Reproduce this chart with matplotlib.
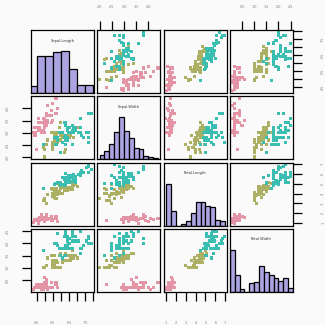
import numpy as np
import matplotlib.pyplot as plt

names = ['Sepal.Length', 'Sepal.Width', 'Petal.Length', 'Petal.Width']
species = ['setosa'] * 50 + ['versicolor'] * 50 + ['virginica'] * 50

sepal_length = [
    5.1, 4.9, 4.7, 4.6, 5.0, 5.4, 4.6, 5.0, 4.4, 4.9, 5.4, 4.8, 4.8, 4.3, 5.8, 5.7, 5.4, 5.1, 5.7, 5.1,
    5.4, 5.1, 4.6, 5.1, 4.8, 5.0, 5.0, 5.2, 5.2, 4.7, 4.8, 5.4, 5.2, 5.5, 4.9, 5.0, 5.5, 4.9, 4.4, 5.1,
    5.0, 4.5, 4.4, 5.0, 5.1, 4.8, 5.1, 4.6, 5.3, 5.0,
    7.0, 6.4, 6.9, 5.5, 6.5, 5.7, 6.3, 4.9, 6.6, 5.2, 5.0, 5.9, 6.0, 6.1, 5.6, 6.7, 5.6, 5.8, 6.2, 5.6,
    5.9, 6.1, 6.3, 6.1, 6.4, 6.6, 6.8, 6.7, 6.0, 5.7, 5.5, 5.5, 5.8, 6.0, 5.4, 6.0, 6.7, 6.3, 5.6, 5.5,
    5.5, 6.1, 5.8, 5.0, 5.6, 5.7, 5.7, 6.2, 5.1, 5.7,
    6.3, 5.8, 7.1, 6.3, 6.5, 7.6, 4.9, 7.3, 6.7, 7.2, 6.5, 6.4, 6.8, 5.7, 5.8, 6.4, 6.5, 7.7, 7.7, 6.0,
    6.9, 5.6, 7.7, 6.3, 6.7, 7.2, 6.2, 6.1, 6.4, 7.2, 7.4, 7.9, 6.4, 6.3, 6.1, 7.7, 6.3, 6.4, 6.0, 6.9,
    6.7, 6.9, 5.8, 6.8, 6.7, 6.7, 6.3, 6.5, 6.2, 5.9]
sepal_width = [
    3.5, 3.0, 3.2, 3.1, 3.6, 3.9, 3.4, 3.4, 2.9, 3.1, 3.7, 3.4, 3.0, 3.0, 4.0, 4.4, 3.9, 3.5, 3.8, 3.8,
    3.4, 3.7, 3.6, 3.3, 3.4, 3.0, 3.4, 3.5, 3.4, 3.2, 3.1, 3.4, 4.1, 4.2, 3.1, 3.2, 3.5, 3.6, 3.0, 3.4,
    3.5, 2.3, 3.2, 3.5, 3.8, 3.0, 3.8, 3.2, 3.7, 3.3,
    3.2, 3.2, 3.1, 2.3, 2.8, 2.8, 3.3, 2.4, 2.9, 2.7, 2.0, 3.0, 2.2, 2.9, 2.9, 3.1, 3.0, 2.7, 2.2, 2.5,
    3.2, 2.8, 2.5, 2.8, 2.9, 3.0, 2.8, 3.0, 2.9, 2.6, 2.4, 2.4, 2.7, 2.7, 3.0, 3.4, 3.1, 2.3, 3.0, 2.5,
    2.6, 3.0, 2.6, 2.3, 2.7, 3.0, 2.9, 2.9, 2.5, 2.8,
    3.3, 2.7, 3.0, 2.9, 3.0, 3.0, 2.5, 2.9, 2.5, 3.6, 3.2, 2.7, 3.0, 2.5, 2.8, 3.2, 3.0, 3.8, 2.6, 2.2,
    3.2, 2.8, 2.8, 2.7, 3.3, 3.2, 2.8, 3.0, 2.8, 3.0, 2.8, 3.8, 2.8, 2.8, 2.6, 3.0, 3.4, 3.1, 3.0, 3.1,
    3.1, 3.1, 2.7, 3.2, 3.3, 3.0, 2.5, 3.0, 3.4, 3.0]
petal_length = [
    1.4, 1.4, 1.3, 1.5, 1.4, 1.7, 1.4, 1.5, 1.4, 1.5, 1.5, 1.6, 1.4, 1.1, 1.2, 1.5, 1.3, 1.4, 1.7, 1.5,
    1.7, 1.5, 1.0, 1.7, 1.9, 1.6, 1.6, 1.5, 1.4, 1.6, 1.6, 1.5, 1.5, 1.4, 1.5, 1.2, 1.3, 1.4, 1.3, 1.5,
    1.3, 1.3, 1.3, 1.6, 1.9, 1.4, 1.6, 1.4, 1.5, 1.4,
    4.7, 4.5, 4.9, 4.0, 4.6, 4.5, 4.7, 3.3, 4.6, 3.9, 3.5, 4.2, 4.0, 4.7, 3.6, 4.4, 4.5, 4.1, 4.5, 3.9,
    4.8, 4.0, 4.9, 4.7, 4.3, 4.4, 4.8, 5.0, 4.5, 3.5, 3.8, 3.7, 3.9, 5.1, 4.5, 4.5, 4.7, 4.4, 4.1, 4.0,
    4.4, 4.6, 4.0, 3.3, 4.2, 4.2, 4.2, 4.3, 3.0, 4.1,
    6.0, 5.1, 5.9, 5.6, 5.8, 6.6, 4.5, 6.3, 5.8, 6.1, 5.1, 5.3, 5.5, 5.0, 5.1, 5.3, 5.5, 6.7, 6.9, 5.0,
    5.7, 4.9, 6.7, 4.9, 5.7, 6.0, 4.8, 4.9, 5.6, 5.8, 6.1, 6.4, 5.6, 5.1, 5.6, 6.1, 5.6, 5.5, 4.8, 5.4,
    5.6, 5.1, 5.1, 5.9, 5.7, 5.2, 5.0, 5.2, 5.4, 5.1]
petal_width = [
    0.2, 0.2, 0.2, 0.2, 0.2, 0.4, 0.3, 0.2, 0.2, 0.1, 0.2, 0.2, 0.1, 0.1, 0.2, 0.4, 0.4, 0.3, 0.3, 0.3,
    0.2, 0.4, 0.2, 0.5, 0.2, 0.2, 0.4, 0.2, 0.2, 0.2, 0.2, 0.4, 0.1, 0.2, 0.2, 0.2, 0.2, 0.1, 0.2, 0.2,
    0.3, 0.3, 0.2, 0.6, 0.4, 0.3, 0.2, 0.2, 0.2, 0.2,
    1.4, 1.5, 1.5, 1.3, 1.5, 1.3, 1.6, 1.0, 1.3, 1.4, 1.0, 1.5, 1.0, 1.4, 1.3, 1.4, 1.5, 1.0, 1.5, 1.1,
    1.8, 1.3, 1.5, 1.2, 1.3, 1.4, 1.4, 1.7, 1.5, 1.0, 1.1, 1.0, 1.2, 1.6, 1.5, 1.6, 1.5, 1.3, 1.3, 1.3,
    1.2, 1.4, 1.2, 1.0, 1.3, 1.2, 1.3, 1.3, 1.1, 1.3,
    2.5, 1.9, 2.1, 1.8, 2.2, 2.1, 1.7, 1.8, 1.8, 2.5, 2.0, 1.9, 2.1, 2.0, 2.4, 2.3, 1.8, 2.2, 2.3, 1.5,
    2.3, 2.0, 2.0, 1.8, 2.1, 1.8, 1.8, 1.8, 2.1, 1.6, 1.9, 2.0, 2.2, 1.5, 1.4, 2.3, 2.4, 1.8, 1.8, 2.1,
    2.4, 2.3, 1.9, 2.3, 2.5, 2.3, 1.9, 2.0, 2.3, 1.8]

# histogram bins (right-closed, like R's hist)
hist_breaks = [
    [4.0, 4.5, 5.0, 5.5, 6.0, 6.5, 7.0, 7.5, 8.0],
    [2.0, 2.2, 2.4, 2.6, 2.8, 3.0, 3.2, 3.4, 3.6, 3.8, 4.0, 4.2, 4.4],
    [1.0, 1.5, 2.0, 2.5, 3.0, 3.5, 4.0, 4.5, 5.0, 5.5, 6.0, 6.5, 7.0],
    [0.0, 0.2, 0.4, 0.6, 0.8, 1.0, 1.2, 1.4, 1.6, 1.8, 2.0, 2.2, 2.4, 2.6]]
hist_counts = [
    [5, 27, 27, 30, 31, 18, 6, 6],
    [4, 7, 13, 23, 36, 24, 18, 10, 9, 3, 2, 1],
    [37, 13, 0, 1, 4, 11, 21, 21, 17, 16, 5, 4],
    [34, 14, 2, 0, 7, 8, 21, 16, 14, 11, 9, 11, 3]]

# axis ticks and labels
tick_values = [
    [4.5, 5.0, 5.5, 6.0, 6.5, 7.0, 7.5, 8.0],
    [2.0, 2.5, 3.0, 3.5, 4.0],
    [1, 2, 3, 4, 5, 6, 7],
    [0.5, 1.0, 1.5, 2.0, 2.5]]
tick_labels = [
    ['4.5', '', '5.5', '', '6.5', '', '7.5', ''],
    ['2.0', '2.5', '3.0', '3.5', '4.0'],
    ['1', '2', '3', '4', '5', '6', '7'],
    ['0.5', '1.0', '1.5', '2.0', '2.5']]

species_colors = {'setosa': '#E495A5', 'versicolor': '#ABB065', 'virginica': '#39BEB1'}
hist_color = '#ACA4E2'
bg = '#fafafa'

data = [np.array(sepal_length), np.array(sepal_width),
        np.array(petal_length), np.array(petal_width)]
point_colors = [species_colors[s] for s in species]


def limits(v):
    lo, hi = v.min(), v.max()
    d = (hi - lo) * 0.04
    return lo - d, hi + d


W = 325
fig = plt.figure(figsize=(3.25, 3.25), dpi=100, facecolor=bg)
left0, top0, size, step = 31, 30, 63, 66.3
tick_kw = dict(length=6.5, width=0.9, color='black', labelsize=2.4, labelcolor='#777777')

for i in range(4):
    for j in range(4):
        x0 = left0 + j * step
        y0 = top0 + i * step
        ax = fig.add_axes([x0 / W, 1 - (y0 + size) / W, size / W, size / W])
        ax.set_facecolor(bg)
        for s in ax.spines.values():
            s.set_linewidth(0.9)
        ax.set_xlim(limits(data[j]))
        if i == j:
            b = np.array(hist_breaks[i])
            c = np.array(hist_counts[i], dtype=float)
            ax.bar(b[:-1], c / c.max(), width=np.diff(b), align='edge',
                   color=hist_color, edgecolor='black', linewidth=0.9)
            ax.set_ylim(0, 1.5)
            ax.text(0.5, 0.8333, names[i], transform=ax.transAxes, ha='center',
                    va='center', fontsize=2.6, color='#333333')
        else:
            ax.scatter(data[j], data[i], c=point_colors, s=5, marker='s',
                       linewidths=0)
            ax.set_ylim(limits(data[i]))

        ax.set_xticks([])
        ax.set_yticks([])
        if (i == 0 and j % 2 == 1) or (i == 3 and j % 2 == 0):
            ax.set_xticks(tick_values[j])
            ax.set_xticklabels(tick_labels[j])
            if i == 0:
                ax.xaxis.tick_top()
                ax.tick_params(axis='x', pad=8.6, **tick_kw)
            else:
                ax.tick_params(axis='x', pad=14.5, **tick_kw)
        if (j == 0 and i % 2 == 1) or (j == 3 and i % 2 == 0):
            ax.set_yticks(tick_values[i])
            ax.set_yticklabels(tick_labels[i], rotation=90, va='center')
            if j == 3:
                ax.yaxis.tick_right()
                ax.tick_params(axis='y', pad=13.8, **tick_kw)
            else:
                ax.tick_params(axis='y', pad=8.6, **tick_kw)

fig.savefig('out.png', dpi=100, facecolor=bg)
